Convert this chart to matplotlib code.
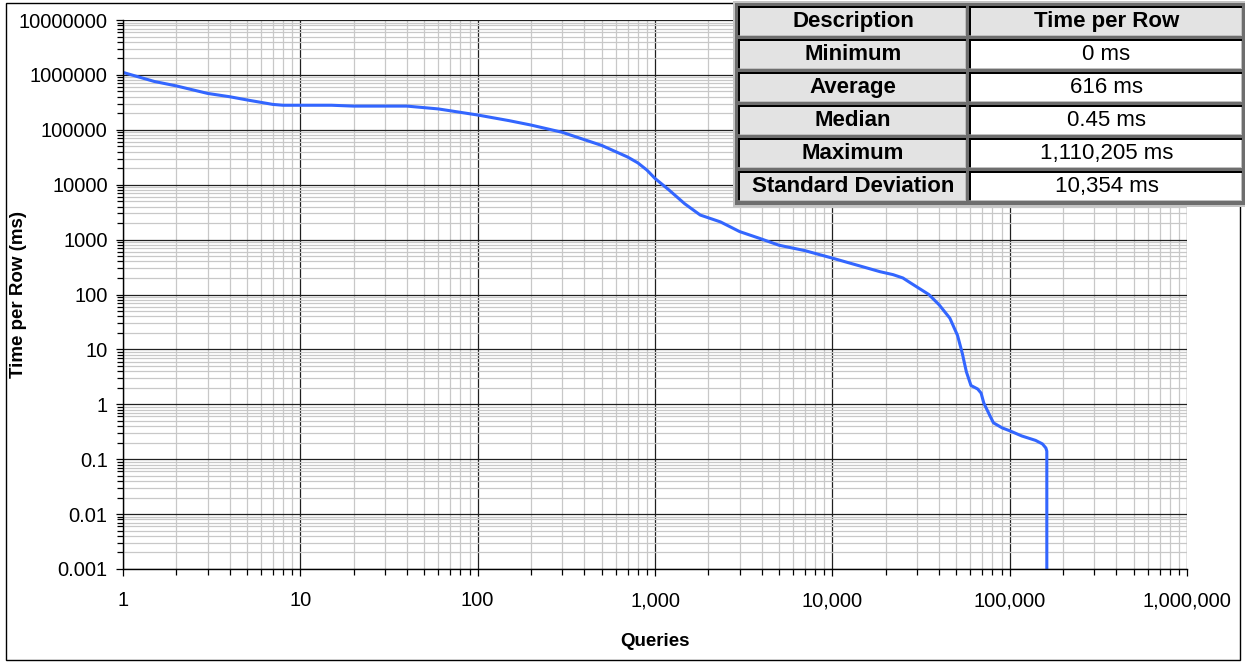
import numpy as np
import matplotlib
matplotlib.use('Agg')
import matplotlib.pyplot as plt
from matplotlib.patches import Rectangle
from matplotlib.ticker import FixedLocator, FixedFormatter, LogLocator, NullFormatter

plt.rcParams['font.family'] = ['Liberation Sans', 'DejaVu Sans']

queries = [1, 1.5, 2, 3, 4, 5, 7, 8, 10, 15, 20, 30, 40, 60, 100, 150, 200, 300,
           500, 600, 700, 800, 900, 1000, 1200, 1470, 1800, 2340, 3000, 3900,
           5000, 7000, 10000, 18600, 22000, 25000, 27400, 35000, 40000, 46000,
           50800, 54000, 57000, 60500, 66000, 69000, 71500, 77000, 81000,
           91000, 100000, 117000, 140000, 153000, 160000, 162000, 162000]
time_ms = [1110205, 7.6e5, 6.3e5, 4.6e5, 4.0e5, 3.5e5, 2.9e5, 2.8e5, 2.8e5,
           2.8e5, 2.7e5, 2.7e5, 2.7e5, 2.4e5, 1.86e5, 1.47e5, 1.22e5, 9.0e4,
           5.2e4, 4.0e4, 3.2e4, 2.5e4, 1.85e4, 1.3e4, 8.0e3, 4.5e3, 2.8e3,
           2.1e3, 1.4e3, 1.05e3, 790, 630, 460, 260, 230, 200, 165, 100, 65,
           37, 18, 8.6, 3.9, 2.2, 1.9, 1.6, 1.05, 0.64, 0.46, 0.37, 0.33,
           0.265, 0.22, 0.19, 0.16, 0.14, 0]

x_ticks = [1, 10, 100, 1000, 10000, 100000, 1000000]
x_labels = ['1', '10', '100', '1,000', '10,000', '100,000', '1,000,000']
y_ticks = [0.001, 0.01, 0.1, 1, 10, 100, 1000, 10000, 100000, 1000000, 10000000]
y_labels = ['0.001', '0.01', '0.1', '1', '10', '100', '1000', '10000',
            '100000', '1000000', '10000000']

stat_header = ['Description', 'Time per Row']
stat_names = ['Minimum', 'Average', 'Median', 'Maximum', 'Standard Deviation']
stat_values = ['0 ms', '616 ms', '0.45 ms', '1,110,205 ms', '10,354 ms']

W, H = 1245, 663
fig = plt.figure(figsize=(W / 100, H / 100), dpi=100)
ax = fig.add_axes([123 / W, 94 / H, 1064 / W, 549 / H])

ax.plot(queries, time_ms, color='#3366ff', lw=2.2, solid_joinstyle='round')
ax.set_xscale('log')
ax.set_yscale('log', nonpositive='clip')
ax.set_xlim(1, 1e6)
ax.set_ylim(1e-3, 1e7)

ax.xaxis.set_major_locator(FixedLocator(x_ticks))
ax.xaxis.set_major_formatter(FixedFormatter(x_labels))
ax.yaxis.set_major_locator(FixedLocator(y_ticks))
ax.yaxis.set_major_formatter(FixedFormatter(y_labels))
for a in (ax.xaxis, ax.yaxis):
    a.set_minor_locator(LogLocator(base=10, subs=np.arange(2, 10), numticks=20))
    a.set_minor_formatter(NullFormatter())

ax.grid(True, which='minor', color='#c8c8c8', lw=0.9)
ax.grid(True, which='major', color='#202020', lw=0.9)
ax.set_axisbelow(True)
ax.tick_params(which='both', direction='out', color='black', width=0.9)
ax.tick_params(which='major', length=5, labelsize=14.5)
ax.tick_params(which='minor', length=4)
ax.tick_params(axis='x', which='major', pad=11)
ax.tick_params(axis='y', which='major', pad=6)
for side in ('top', 'right'):
    ax.spines[side].set_visible(False)
for side in ('left', 'bottom'):
    ax.spines[side].set_linewidth(1.0)

ax.set_xlabel('Queries', fontsize=13.5, fontweight='bold')
ax.set_ylabel('Time per Row (ms)', fontsize=13.5, fontweight='bold')
ax.xaxis.set_label_coords(0.5, -0.147)
ax.yaxis.set_label_coords(-0.0985, 0.5)
ax.xaxis.label.set_va('bottom')
ax.yaxis.label.set_va('center')

# outer chart frame
fig.add_artist(Rectangle((6 / W, 3 / H), 1234 / W, 657 / H, transform=fig.transFigure,
                         fill=False, edgecolor='black', lw=1.0))


def box(x0, y0, x1, y1, color, z=5):
    # pixel box (top-left origin) -> figure rectangle
    fig.add_artist(Rectangle((x0 / W, 1 - y1 / H), (x1 - x0) / W, (y1 - y0) / H,
                             transform=fig.transFigure, facecolor=color,
                             edgecolor='none', zorder=z))


# statistics table
box(733, 1, 1245, 207, '#c4c4c4')
box(735, 3, 1245, 205, '#6e6e6e')
cols = [(740, 966), (971, 1242)]
rows = [stat_header] + [[n, v] for n, v in zip(stat_names, stat_values)]
for i, (left_txt, right_txt) in enumerate(rows):
    top = 8 + 33 * i
    bot = top + 27
    for j, (cx0, cx1) in enumerate(cols):
        face = '#e3e3e3' if (i == 0 or j == 0) else 'white'
        box(cx0 - 2, top - 2, cx1, bot, 'black', z=6)
        box(cx0, top, cx1, bot + 1, '#c0c0c0', z=6)
        box(cx0, top, cx1 - 1, bot, face, z=7)
        txt = left_txt if j == 0 else right_txt
        bold = (i == 0 or j == 0)
        fig.text((cx0 + cx1) / 2 / W, 1 - (top + bot) / 2 / H, txt,
                 ha='center', va='center', fontsize=16,
                 fontweight='bold' if bold else 'normal', zorder=8)

fig.savefig('out.png', dpi=100)
